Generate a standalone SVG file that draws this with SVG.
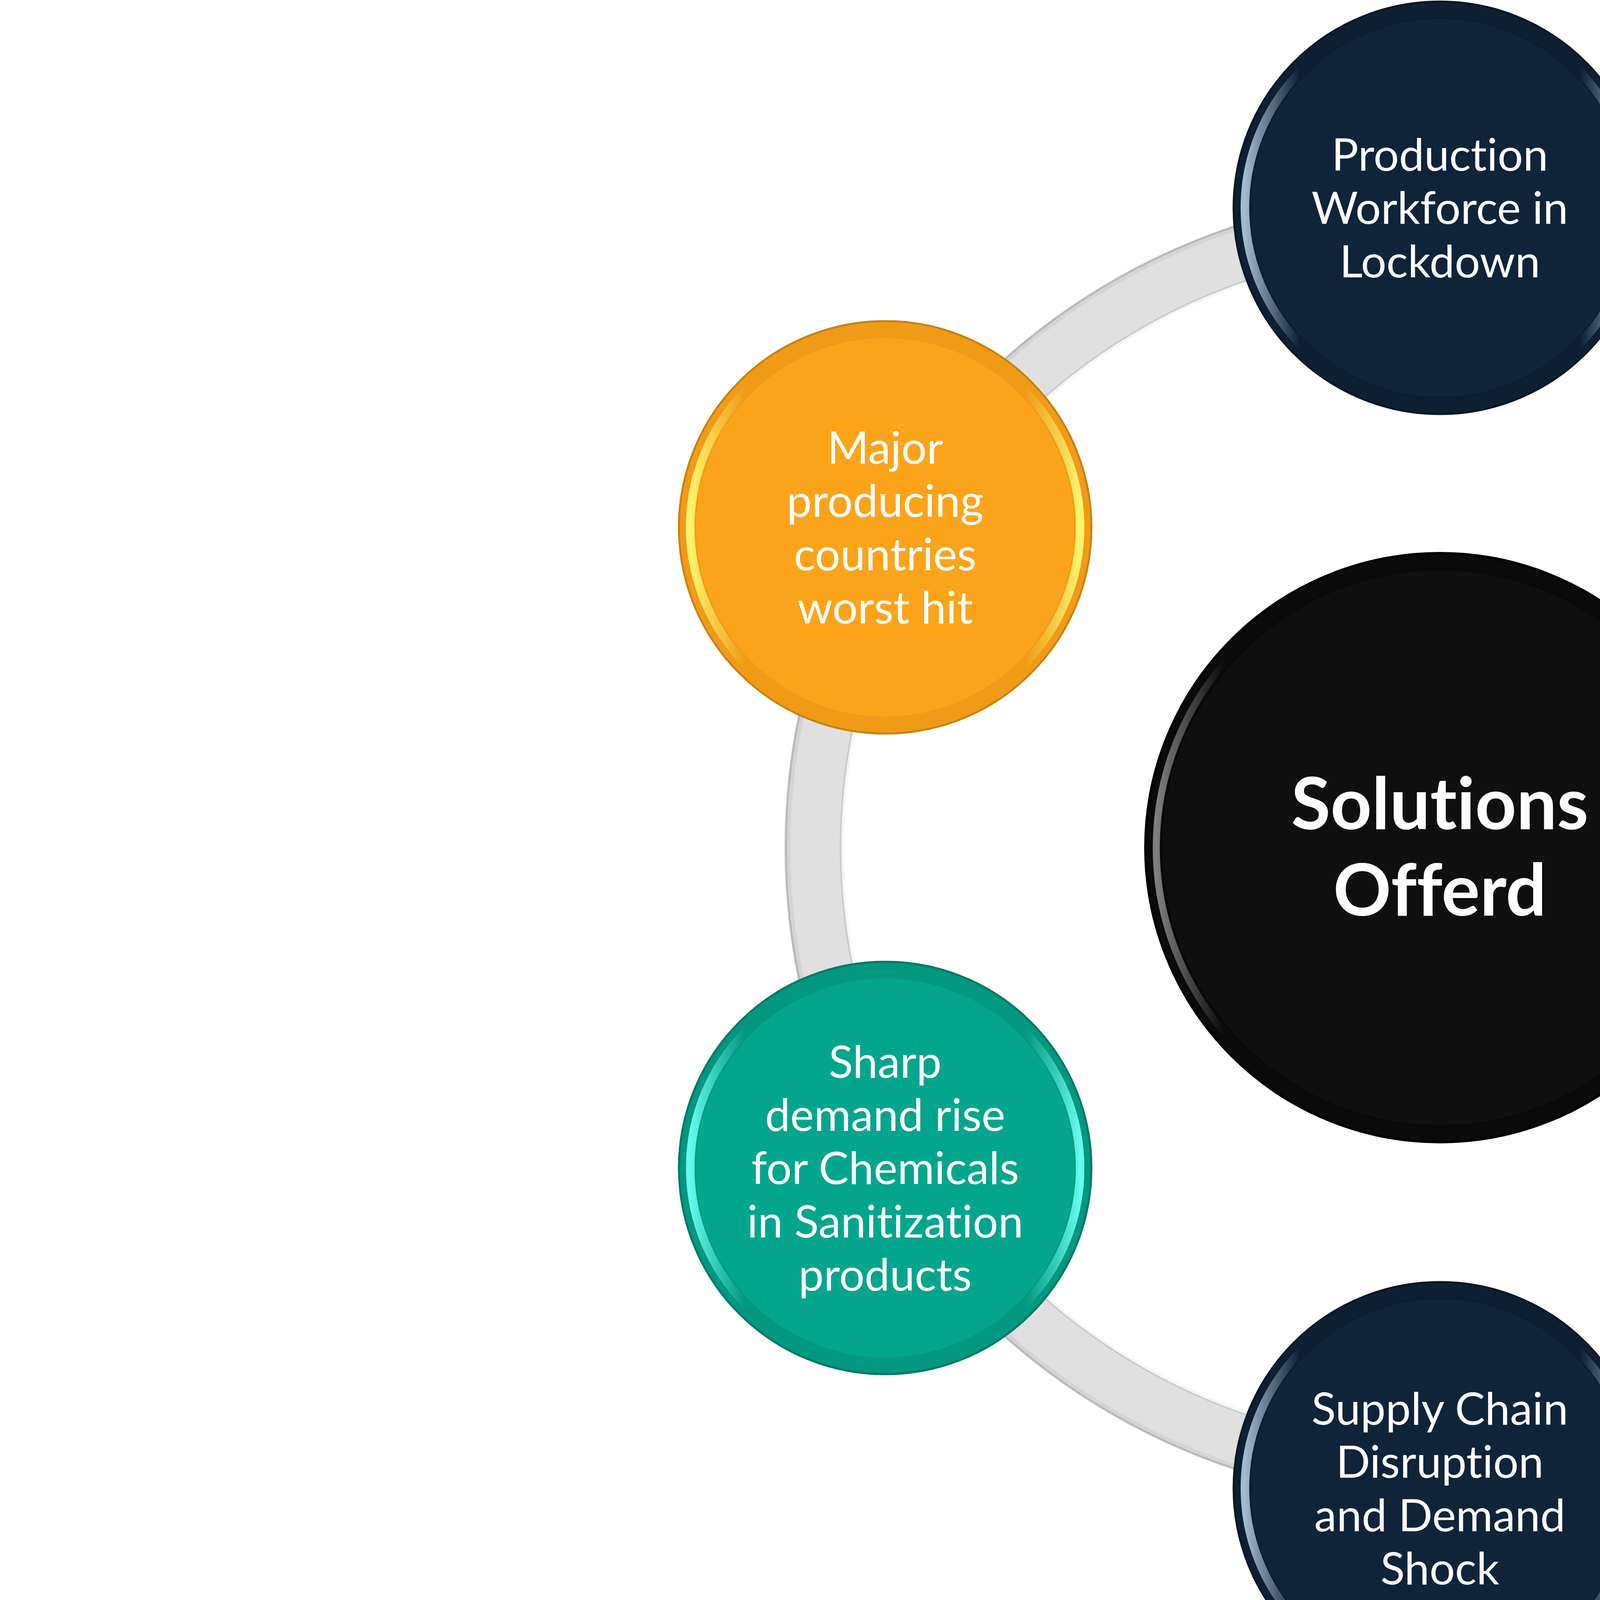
<svg xmlns="http://www.w3.org/2000/svg" width="7373" height="4343" viewBox="0 0 7373 4343">
  <defs>
    <linearGradient id="hl-navy" x1="0" y1="0" x2="1" y2="0">
      <stop offset="0" stop-color="#a9c3da" stop-opacity="0.95"/>
      <stop offset="0.14" stop-color="#a9c3da" stop-opacity="0"/>
      <stop offset="0.86" stop-color="#a9c3da" stop-opacity="0"/>
      <stop offset="1" stop-color="#a9c3da" stop-opacity="0.95"/>
    </linearGradient>
    <linearGradient id="hl-teal" x1="0" y1="0" x2="1" y2="0">
      <stop offset="0" stop-color="#6afff2" stop-opacity="0.95"/>
      <stop offset="0.14" stop-color="#6afff2" stop-opacity="0"/>
      <stop offset="0.86" stop-color="#6afff2" stop-opacity="0"/>
      <stop offset="1" stop-color="#6afff2" stop-opacity="0.95"/>
    </linearGradient>
    <linearGradient id="hl-orange" x1="0" y1="0" x2="1" y2="0">
      <stop offset="0" stop-color="#fff872" stop-opacity="0.95"/>
      <stop offset="0.14" stop-color="#fff872" stop-opacity="0"/>
      <stop offset="0.86" stop-color="#fff872" stop-opacity="0"/>
      <stop offset="1" stop-color="#fff872" stop-opacity="0.95"/>
    </linearGradient>
    <linearGradient id="hl-black" x1="0" y1="0" x2="1" y2="0">
      <stop offset="0" stop-color="#8c8c8c" stop-opacity="0.9"/>
      <stop offset="0.12" stop-color="#8c8c8c" stop-opacity="0"/>
      <stop offset="0.88" stop-color="#8c8c8c" stop-opacity="0"/>
      <stop offset="1" stop-color="#8c8c8c" stop-opacity="0.9"/>
    </linearGradient>
  </defs>
  <style>
    .navy-rim { fill: #0d2033; stroke: #081624; stroke-width: 5; }
    .navy-face { fill: #0f2439; stroke: #0b1c2d; stroke-width: 3; }
    .teal-rim { fill: #02977f; stroke: #027966; stroke-width: 5; }
    .teal-face { fill: #03a68c; stroke: #029a82; stroke-width: 3; }
    .orange-rim { fill: #f09b18; stroke: #c9820f; stroke-width: 5; }
    .orange-face { fill: #fba41b; stroke: #f0991a; stroke-width: 3; }
    .black-rim { fill: #0a0a0a; stroke: #000000; stroke-width: 6; }
    .black-face { fill: #0f0f0f; stroke: #080808; stroke-width: 3; }
    text { font-variant-ligatures: none; font-feature-settings: "liga" 0, "dlig" 0; }
    .lbl { font-family: Lato, "Open Sans", sans-serif; font-size: 115px; fill: #ffffff; text-anchor: middle; }
    .title { font-family: Lato, "Open Sans", sans-serif; font-size: 184px; font-weight: bold; fill: #ffffff; text-anchor: middle; }
  </style>
  <rect x="0" y="0" width="7373" height="4343" fill="#ffffff"/>

  <g id="connectors">
    <circle cx="3686" cy="2170" r="1603" fill="none" stroke="#e0e0e0" stroke-width="150"/>
    <circle cx="3686" cy="2170" r="1674" fill="none" stroke="#b9b9b9" stroke-width="5"/>
    <circle cx="3686" cy="2170" r="1667" fill="none" stroke="#d4d4d4" stroke-width="9"/>
    <circle cx="3686" cy="2170" r="1534" fill="none" stroke="#cdcdcd" stroke-width="5"/>
    <circle cx="3686" cy="2170" r="1529" fill="none" stroke="#f6f6f6" stroke-width="6"/>
  </g>

  <g id="node-center" transform="translate(3686,2170)">
    <circle r="754" class="black-rim"/>
    <circle r="726" fill="none" stroke="url(#hl-black)" stroke-width="18"/>
    <circle r="712" class="black-face"/>
    <text class="title" x="0" y="-47">Solutions</text>
    <text class="title" x="0" y="174">Offerd</text>
  </g>

  <g id="node-top" transform="translate(3686,532)">
    <circle r="528" class="navy-rim"/>
    <circle r="499" fill="none" stroke="url(#hl-navy)" stroke-width="22"/>
    <circle r="486" class="navy-face"/>
    <text class="lbl" x="0" y="-95">Production</text>
    <text class="lbl" x="0" y="41">Workforce in</text>
    <text class="lbl" x="0" y="178">Lockdown</text>
  </g>

  <g id="node-top-right" transform="translate(5106,1350)">
    <circle r="528" class="teal-rim"/>
    <circle r="499" fill="none" stroke="url(#hl-teal)" stroke-width="22"/>
    <circle r="486" class="teal-face"/>
    <text class="lbl" x="0" y="-95">Temporary</text>
    <text class="lbl" x="0" y="41">Factory</text>
    <text class="lbl" x="0" y="178">shutdowns</text>
  </g>

  <g id="node-bottom-right" transform="translate(5106,2990)">
    <circle r="528" class="orange-rim"/>
    <circle r="499" fill="none" stroke="url(#hl-orange)" stroke-width="22"/>
    <circle r="486" class="orange-face"/>
    <text class="lbl" x="0" y="-95">Logistics</text>
    <text class="lbl" x="0" y="41">services are</text>
    <text class="lbl" x="0" y="178">constrained</text>
  </g>

  <g id="node-bottom" transform="translate(3686,3810)">
    <circle r="528" class="navy-rim"/>
    <circle r="499" fill="none" stroke="url(#hl-navy)" stroke-width="22"/>
    <circle r="486" class="navy-face"/>
    <text class="lbl" x="0" y="-163">Supply Chain</text>
    <text class="lbl" x="0" y="-27">Disruption</text>
    <text class="lbl" x="0" y="110">and Demand</text>
    <text class="lbl" x="0" y="246">Shock</text>
  </g>

  <g id="node-bottom-left" transform="translate(2266,2990)">
    <circle r="528" class="teal-rim"/>
    <circle r="499" fill="none" stroke="url(#hl-teal)" stroke-width="22"/>
    <circle r="486" class="teal-face"/>
    <text class="lbl" x="0" y="-231">Sharp</text>
    <text class="lbl" x="0" y="-95">demand rise</text>
    <text class="lbl" x="0" y="41">for Chemicals</text>
    <text class="lbl" x="0" y="178">in Sanitization</text>
    <text class="lbl" x="0" y="314">products</text>
  </g>

  <g id="node-top-left" transform="translate(2266,1350)">
    <circle r="528" class="orange-rim"/>
    <circle r="499" fill="none" stroke="url(#hl-orange)" stroke-width="22"/>
    <circle r="486" class="orange-face"/>
    <text class="lbl" x="0" y="-163">Major</text>
    <text class="lbl" x="0" y="-27">producing</text>
    <text class="lbl" x="0" y="110">countries</text>
    <text class="lbl" x="0" y="246">worst hit</text>
  </g>
</svg>
